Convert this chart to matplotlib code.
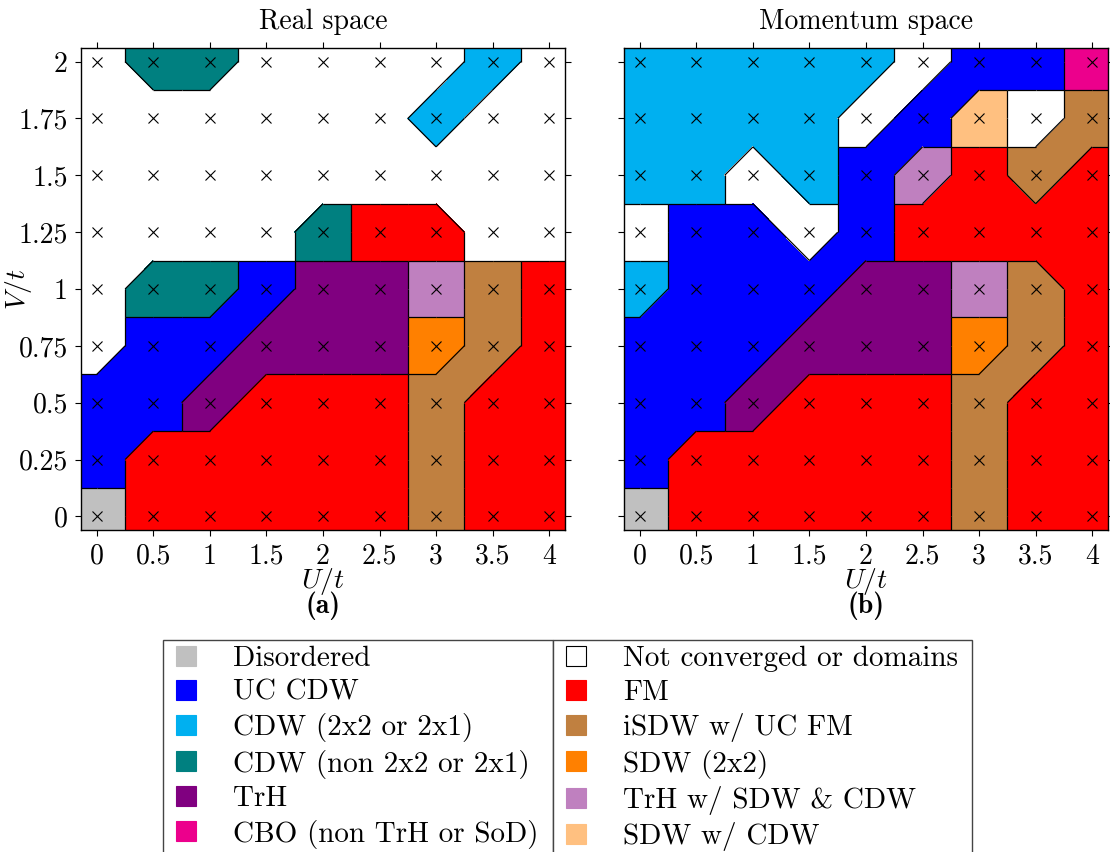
import numpy as np
import matplotlib.pyplot as plt
from matplotlib.collections import PolyCollection, LineCollection
from matplotlib.lines import Line2D

plt.rcParams['font.family'] = 'cmr10'
plt.rcParams['mathtext.fontset'] = 'cm'
plt.rcParams['axes.unicode_minus'] = False

# grid of the phase diagram
U_vals = [0, 0.5, 1, 1.5, 2, 2.5, 3, 3.5, 4]
V_vals = [0, 0.25, 0.5, 0.75, 1, 1.25, 1.5, 1.75, 2]
x_ticklabels = ['0', '0.5', '1', '1.5', '2', '2.5', '3', '3.5', '4']
y_ticklabels = ['0', '0.25', '0.5', '0.75', '1', '1.25', '1.5', '1.75', '2']

phase_keys = ['D', 'B', 'L', 'T', 'H', 'C', 'N', 'F', 'I', 'S', 'P', 'W']
phase_labels = ['Disordered', 'UC CDW', 'CDW (2x2 or 2x1)', 'CDW (non 2x2 or 2x1)',
                'TrH', 'CBO (non TrH or SoD)',
                'Not converged or domains', 'FM', 'iSDW w/ UC FM', 'SDW (2x2)',
                'TrH w/ SDW & CDW', 'SDW w/ CDW']
phase_colors = ['#c0c0c0', '#0000ff', '#00b0f0', '#008080', '#800080', '#ec008c',
                '#ffffff', '#ff0000', '#c08040', '#ff8000', '#bf80bf', '#ffc080']

# rows from V=2 (top) down to V=0, columns U=0..4
real_rows = ['NTTNNNNLN',
             'NNNNNNLNN',
             'NNNNNNNNN',
             'NNNNTFFNN',
             'NTTBHHPIF',
             'NBBHHHSIF',
             'BBHFFFIFF',
             'BFFFFFIFF',
             'DFFFFFIFF']
mom_rows = ['LLLLLNBBC',
            'LLLLNBWNI',
            'LLNLBPFIF',
            'NBBNBFFFF',
            'LBBBHHPIF',
            'BBBHHHSIF',
            'BBHFFFIFF',
            'BFFFFFIFF',
            'DFFFFFIFF']

col = dict(zip(phase_keys, phase_colors))


def draw_phases(ax, rows):
    g = np.array([list(r) for r in rows[::-1]])
    g = np.pad(g, 1, mode='edge')
    U = np.array(U_vals, dtype=float)
    V = np.array(V_vals, dtype=float)
    up = np.concatenate([[2*U[0]-U[1]], U, [2*U[-1]-U[-2]]])
    vp = np.concatenate([[2*V[0]-V[1]], V, [2*V[-1]-V[-2]]])
    polys, fcs, segs = [], [], []
    adj = [('b', 'l'), ('b', 'r'), ('l', 't'), ('r', 't')]
    for j in range(len(vp)-1):
        for i in range(len(up)-1):
            x0, x1, y0, y1 = up[i], up[i+1], vp[j], vp[j+1]
            xm, ym = (x0+x1)/2, (y0+y1)/2
            v = [g[j, i], g[j, i+1], g[j+1, i], g[j+1, i+1]]   # BL BR TL TR
            corner = [(x0, y0), (x1, y0), (x0, y1), (x1, y1)]
            mids = {'b': (xm, y0), 'r': (x1, ym), 't': (xm, y1), 'l': (x0, ym)}
            vals, counts = np.unique(v, return_counts=True)
            fill, cuts = None, []
            if len(vals) == 1:
                fill = v[0]
            elif counts.max() == 3:
                fill = vals[counts.argmax()]
                cuts = [k for k in range(4) if v[k] != fill]
            else:
                d1 = v[0] == v[3]
                d2 = v[1] == v[2]
                if d1 and d2:
                    if v[0] == 'N':
                        d1 = False
                    else:
                        d2 = False
                if d1:
                    fill, cuts = v[0], [1, 2]
                elif d2:
                    fill, cuts = v[1], [0, 3]
            if fill is None:
                for k in range(4):
                    a, b = adj[k]
                    polys.append([corner[k], mids[a], (xm, ym), mids[b]])
                    fcs.append(col[v[k]])
                for k1, k2, m in [(0, 1, 'b'), (1, 3, 'r'), (2, 3, 't'), (0, 2, 'l')]:
                    if v[k1] != v[k2]:
                        segs.append([(xm, ym), mids[m]])
            else:
                polys.append([corner[0], corner[1], corner[3], corner[2]])
                fcs.append(col[fill])
                for k in cuts:
                    a, b = adj[k]
                    polys.append([corner[k], mids[a], mids[b]])
                    fcs.append(col[v[k]])
                    segs.append([mids[a], mids[b]])
    ax.add_collection(PolyCollection(polys, facecolors=fcs, edgecolors='none',
                                     linewidths=0, antialiased=False, zorder=1))
    ax.add_collection(LineCollection(segs, colors='k', linewidths=0.9, zorder=2))
    UU, VV = np.meshgrid(U, V)
    ax.plot(UU.ravel(), VV.ravel(), 'x', color='k', ms=6.5, mew=0.8, zorder=3)
    ax.set_xlim(-0.14, 4.14)
    ax.set_ylim(-0.06, 2.06)
    ax.set_xticks(U_vals)
    ax.set_xticklabels(x_ticklabels)
    ax.set_yticks(V_vals)
    ax.tick_params(direction='out', top=True, right=True, length=4.5, width=0.8,
                   labelsize=20, pad=5)
    for s in ax.spines.values():
        s.set_linewidth(1.0)


fig = plt.figure(figsize=(11.1, 8.52), dpi=100)
ax1 = fig.add_axes([81/1110, 1-530/852, 484/1110, 482/852])
ax2 = fig.add_axes([624/1110, 1-530/852, 484/1110, 482/852])

for ax, rows, title, tag in [(ax1, real_rows, 'Real space', '(a)'),
                             (ax2, mom_rows, 'Momentum space', '(b)')]:
    draw_phases(ax, rows)
    ax.set_title(title, fontsize=20, pad=14)
    ax.set_xlabel('$U/t$', fontsize=20)
    ax.xaxis.set_label_coords(0.5, -0.075)
    ax.text(0.5, -0.157, tag, transform=ax.transAxes, family='cmb10',
            ha='center', va='center', fontsize=20)

ax1.set_yticklabels(y_ticklabels)
ax1.set_ylabel('$V/t$', fontsize=20)
ax1.yaxis.set_label_coords(-0.098, 0.5)
ax2.set_yticklabels([])

handles = []
for k, lab, c in zip(phase_keys, phase_labels, phase_colors):
    ec = 'k' if k == 'N' else c
    handles.append(Line2D([], [], ls='none', marker='s', ms=14, mfc=c, mec=ec,
                          mew=0.8, label=lab))

top = 1 - 640/852
leg_kw = dict(loc='upper left', mode='expand', fontsize=21, frameon=True,
              fancybox=False, edgecolor='#444444', framealpha=1, borderaxespad=0,
              handlelength=1.2, handletextpad=1.0, labelspacing=0.25, borderpad=0.2)
leg1 = fig.legend(handles=handles[:6], bbox_to_anchor=(163/1110, 0, 390/1110, top),
                  **leg_kw)
leg2 = fig.legend(handles=handles[6:], bbox_to_anchor=(553/1110, 0, 419/1110, top),
                  **leg_kw)
for leg in (leg1, leg2):
    leg.get_frame().set_linewidth(1.0)

fig.savefig('out.png', dpi=100)
